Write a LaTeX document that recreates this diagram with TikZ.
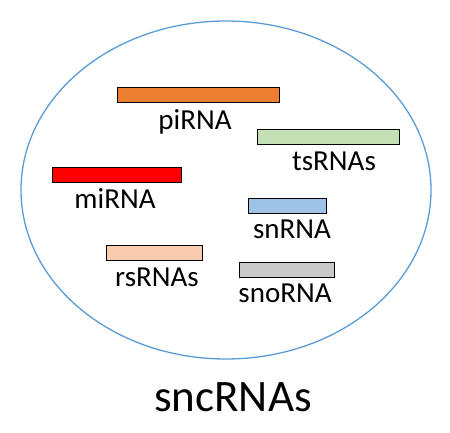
\documentclass[tikz,border=0pt]{standalone}
\usepackage{fontspec}
\setmainfont{Carlito}
\usetikzlibrary{shapes.geometric}
\definecolor{rim}{HTML}{5B9BD5}
\definecolor{piorange}{HTML}{ED7D31}
\definecolor{tsgreen}{HTML}{C5E0B4}
\definecolor{mired}{HTML}{FF0000}
\definecolor{snblue}{HTML}{9DC3E6}
\definecolor{rspeach}{HTML}{F8CBAD}
\definecolor{snogrey}{HTML}{C9C9C9}

\begin{document}
\begin{tikzpicture}[x=1pt, y=-1pt,
    bar/.style={draw=black, line width=0.8pt, fill=#1, inner sep=0pt, minimum height=14.5pt, anchor=north west},
    tag/.style={anchor=base, inner sep=0pt, font=\fontsize{29}{32}\selectfont},
  ]
% --- Frame --------------------------------------------------------------------
\useasboundingbox (0,0) rectangle (450,432);
\node[draw=rim, line width=1.3pt, ellipse, inner sep=0pt, minimum width=410pt, minimum height=338pt] (cell) at (226,190) {};

% --- Bars: name/colour/left/top/width/label x/label baseline/text -------------
\foreach \nm/\col/\xa/\ya/\w/\lx/\lb/\txt in {
  pi/piorange/117/87/162/195/129/piRNA,
  ts/tsgreen/257/129/142/334/170/tsRNAs,
  mi/mired/52/167/129/115/208/miRNA,
  sn/snblue/248/198/78/292/238/snRNA,
  rs/rspeach/106/245/96/157/286/rsRNAs,
  sno/snogrey/239/262/95/285/302/snoRNA}
{
  \node[bar=\col, minimum width=\w pt] (\nm) at (\xa,\ya) {};
  \node[tag] (\nm-tag) at (\lx,\lb) {\txt};
}

% --- Title --------------------------------------------------------------------
\node[anchor=base, inner sep=0pt, font=\fontsize{45}{48}\selectfont] (title) at (233,411) {sncRNAs};
\end{tikzpicture}
\end{document}
